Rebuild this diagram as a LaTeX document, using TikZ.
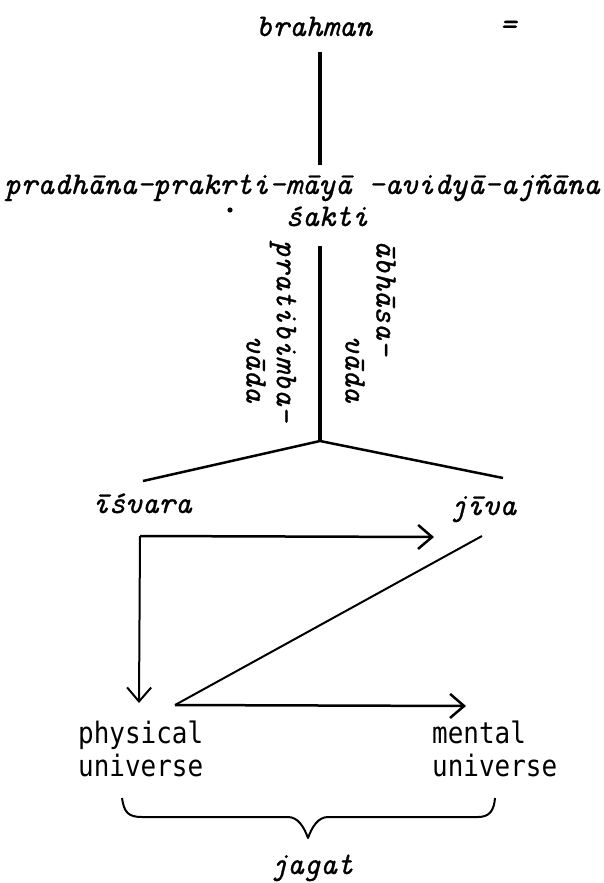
\documentclass[tikz,border=0pt]{standalone}
\usepackage{fontspec}
\newfontfamily\typeit[FakeBold=0.8]{Latin Modern Mono}
\newfontfamily\gothicfont[FakeStretch=0.88]{DejaVu Sans Mono}
\usetikzlibrary{arrows.meta}
\begin{document}
\begin{tikzpicture}[x=1pt,y=1pt,
  ital/.style={font=\fontsize{31.5}{36}\selectfont\typeit\itshape, inner sep=0pt, anchor=base},
  vertlab/.style={font=\fontsize{31.5}{36}\selectfont\typeit\itshape, inner sep=0pt, rotate=-90, anchor=west},
  gothic/.style={font=\fontsize{29.5}{33}\selectfont\gothicfont, inner sep=0pt, align=left, anchor=base west},
  heavy/.style={line width=3.2pt},
  midline/.style={line width=2.5pt},
  thinline/.style={line width=2pt},
  arr/.style={-{Straight Barb[length=14pt,width=24pt]}}
]
\useasboundingbox (0,0) rectangle (604,-883);

% texts
\node[ital] (brahman) at (314,-36) {brahman};
\node[ital] (eq) at (508,-34) {=};
\node[ital] (prakrti) at (302,-194) {pradhāna-prakrti-māyā -avidyā-ajñāna};
\node[ital] (sakti) at (327,-226) {śakti};
\node[vertlab] (prati) at (283,-240) {pratibimba-};
\node[vertlab] (vadaL) at (256,-336) {vāda};
\node[vertlab] (abhasa) at (386,-240) {ābhāsa-};
\node[vertlab] (vadaR) at (355,-336) {vāda};
\node[ital] (isvara) at (142,-513) {īśvara};
\node[ital] (jiva) at (483,-515) {jīva};
\node[gothic] (phys) at (78,-776) {physical\\universe};
\node[gothic] (ment) at (432,-776) {mental\\universe};
\node[ital] (jagat) at (312,-874) {jagat};

% coordinates
\coordinate (dot) at (230,-210);
\coordinate (v1a) at (320,-52);
\coordinate (v1b) at (320,-165);
\coordinate (v2a) at (320,-246);
\coordinate (apex) at (320,-441);
\coordinate (forkL) at (143,-481);
\coordinate (forkR) at (503,-478);
\coordinate (corner) at (140,-536);
\coordinate (toJiva) at (434,-537);
\coordinate (toPhys) at (139,-703);
\coordinate (fromJiva) at (482,-536);
\coordinate (physR) at (175,-705);
\coordinate (toMent) at (466,-706);

\fill (dot) circle (2.6pt);

% connectors
\draw[heavy] (v1a) -- (v1b);
\draw[heavy] (v2a) -- (apex);
\draw[midline, line join=round] (forkL) -- (apex) -- (forkR);
\draw[midline, arr] (corner) -- (toJiva);
\draw[thinline, arr] (corner) -- (toPhys);
\draw[thinline] (fromJiva) -- (physR);
\draw[midline, arr] (physR) -- (toMent);

% brace
\draw[thinline, line join=round]
  (122,-798) .. controls (124,-812) and (128,-817) .. (142,-817)
  -- (288,-817) .. controls (298,-817) and (304,-827) .. (308,-838)
  .. controls (312,-827) and (318,-817) .. (328,-817)
  -- (478,-817) .. controls (490,-817) and (494,-810) .. (495,-798);
\end{tikzpicture}
\end{document}
